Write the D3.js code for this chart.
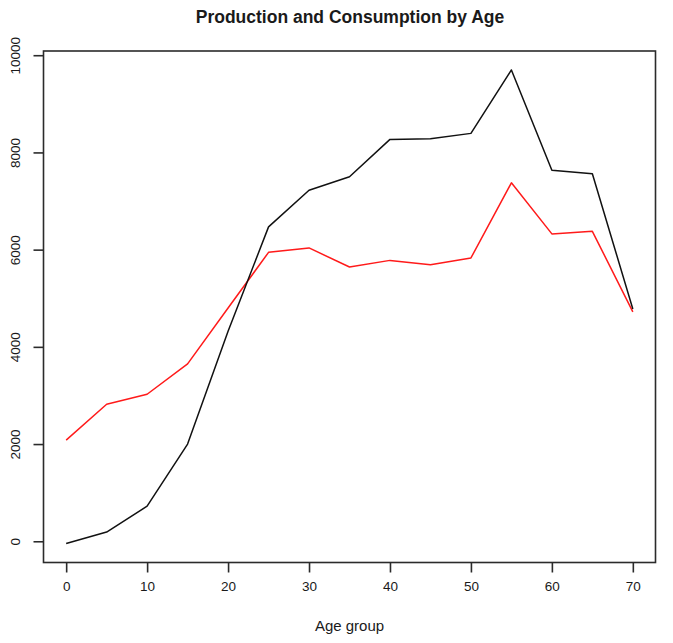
<!DOCTYPE html>
<html>
<head>
<meta charset="utf-8">
<script src="https://cdn.jsdelivr.net/npm/d3@7"></script>
<style>
  html, body { margin: 0; padding: 0; background: #fff; }
  svg { display: block; }
  text { font-family: "Liberation Sans", Arial, Helvetica, sans-serif; fill: #1a1a1a; }
</style>
</head>
<body>
<svg id="chart" width="673" height="643"></svg>
<script>
// Age groups (years)
const ages = [0, 5, 10, 15, 20, 25, 30, 35, 40, 45, 50, 55, 60, 65, 70];
// Production by age group (black)
const production = [-47, 190, 722, 2000, 4320, 6468, 7223, 7499, 8268, 8282, 8392, 9697, 7635, 7561, 4780];
// Consumption by age group (red)
const consumption = [2082, 2819, 3025, 3649, 4798, 5944, 6035, 5643, 5779, 5691, 5829, 7375, 6324, 6377, 4720];
// Axis ticks
const xTicks = [0, 10, 20, 30, 40, 50, 60, 70];
const yTicks = [0, 2000, 4000, 6000, 8000, 10000];

const svg = d3.select("#chart");
const plot = { left: 43.5, right: 655.5, top: 51, bottom: 562.5 };

// Pad each data range by 4% on both sides, like a classic plot region
function padded(extent) {
  const d = (extent[1] - extent[0]) * 0.04;
  return [extent[0] - d, extent[1] + d];
}

const x = d3.scaleLinear()
  .domain(padded(d3.extent(ages)))
  .range([plot.left, plot.right]);

const y = d3.scaleLinear()
  .domain(padded(d3.extent(production.concat(consumption))))
  .range([plot.bottom, plot.top]);

// Plot frame
svg.append("rect")
  .attr("x", plot.left).attr("y", plot.top)
  .attr("width", plot.right - plot.left)
  .attr("height", plot.bottom - plot.top)
  .attr("fill", "none")
  .attr("stroke", "#2b2b2b")
  .attr("stroke-width", 1.6);

// Bottom axis
const xAxis = svg.append("g")
  .attr("transform", `translate(0,${plot.bottom})`)
  .call(d3.axisBottom(x).tickValues(xTicks).tickSize(10).tickPadding(9).tickFormat(d3.format("d")));
xAxis.select(".domain").remove();
xAxis.selectAll("line").attr("stroke", "#2b2b2b").attr("stroke-width", 1.6);
xAxis.selectAll("text").attr("font-size", 13.5).attr("fill", "#1a1a1a")
  .style("font-family", "'Liberation Sans', Arial, sans-serif");

// Left axis with labels turned parallel to the axis
const yAxis = svg.append("g")
  .attr("transform", `translate(${plot.left},0)`)
  .call(d3.axisLeft(y).tickValues(yTicks).tickSize(10).tickFormat(d3.format("d")));
yAxis.select(".domain").remove();
yAxis.selectAll("line").attr("stroke", "#2b2b2b").attr("stroke-width", 1.6);
yAxis.selectAll("text")
  .attr("font-size", 13.5)
  .attr("fill", "#1a1a1a")
  .style("font-family", "'Liberation Sans', Arial, sans-serif")
  .attr("text-anchor", "middle")
  .attr("x", 0).attr("dy", 0)
  .attr("transform", "translate(-19,0) rotate(-90)")
  .attr("y", -5);

// Series lines
const line = vals => d3.line()
  .x((d, i) => x(ages[i]))
  .y(d => y(d))(vals);

svg.append("path")
  .attr("d", line(consumption))
  .attr("fill", "none")
  .attr("stroke", "#ff1a1a")
  .attr("stroke-width", 1.5)
  .attr("stroke-linejoin", "round");

svg.append("path")
  .attr("d", line(production))
  .attr("fill", "none")
  .attr("stroke", "#111")
  .attr("stroke-width", 1.5)
  .attr("stroke-linejoin", "round");

// Title and axis label
svg.append("text")
  .attr("x", 350)
  .attr("y", 23)
  .attr("text-anchor", "middle")
  .attr("font-size", 17.5)
  .attr("font-weight", "bold")
  .text("Production and Consumption by Age");

svg.append("text")
  .attr("x", (plot.left + plot.right) / 2)
  .attr("y", 631)
  .attr("text-anchor", "middle")
  .attr("font-size", 15)
  .text("Age group");
</script>
</body>
</html>
